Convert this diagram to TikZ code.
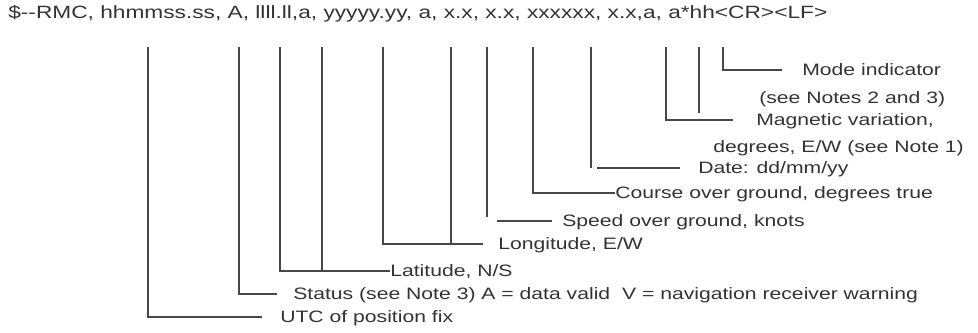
\documentclass[tikz,border=0pt]{standalone}
\usepackage{fontspec}
\setmainfont{Liberation Sans}[FakeStretch=1.28]
\usetikzlibrary{calc, positioning}

\begin{document}
\begin{tikzpicture}[x=0.75pt, y=-0.75pt,
		lead/.style={line width=0.9pt, draw=black!72},
		lbl/.style={anchor=west, inner sep=0pt, text=black!80, font=\fontsize{12.4}{14}\selectfont, text height=8.9pt, text depth=0pt}]
	\useasboundingbox (0,0) rectangle (978,332);
	
	% Sentence
	\node[anchor=base west, inner sep=0pt, text=black!80, font=\fontsize{13.3}{15}\selectfont] (rmc) at (8,18)
		{\$-{}-RMC, hhmmss.ss, A, llll.ll,a, yyyyy.yy, a, x.x, x.x, xxxxxx, x.x,a, a*hh<CR><LF>};
	
	% Field ticks
	\foreach \name/\x in {utc/148, stat/239, lata/280, latb/322, lona/383, lonb/451, sog/487, cog/533, date/591, mva/666, mvb/699, mode/723}
		\coordinate (t-\name) at (\x,47);
	
	% Labels
	\node[lbl] (utc) at (280,317) {UTC of position fix};
	\node[lbl] (stat) at (293,294) {Status (see Note 3) A = data valid\ \ V = navigation receiver warning};
	\node[lbl] (lat) at (390,271) {Latitude, N/S};
	\node[lbl] (lon) at (498,244) {Longitude, E/W};
	\node[lbl] (sog) at (562,221) {Speed over ground, knots};
	\node[lbl] (cog) at (615,193) {Course over ground, degrees true};
	\node[lbl] (date) at (698,168) {Date: dd/mm/yy};
	\node[lbl] (mv) at (756,120) {Magnetic variation,};
	\node[lbl] (mv2) at (713,147) {degrees, E/W (see Note 1)};
	\node[lbl] (mode) at (802,70) {Mode indicator};
	\node[lbl] (mode2) at (759,98) {(see Notes 2 and 3)};
	
	% Leaders
	\draw[lead, shorten >=13.5pt] (t-utc) |- (utc.west);
	\draw[lead, shorten >=12pt] (t-stat) |- (stat.west);
	\draw[lead] (t-lata) |- (lat.west);
	\draw[lead] (t-latb) -- (t-latb |- lat.west);
	\draw[lead, shorten >=11.25pt] (t-lona) |- (lon.west);
	\draw[lead] (t-lonb) -- (t-lonb |- lon.west);
	\draw[lead] (t-sog) -- ++(0,170);
	\draw[lead, shorten >=7.5pt] ($(sog.west)+(-65,0)$) -- (sog.west);
	\draw[lead] (t-cog) |- (cog.west);
	\draw[lead] (t-date) -- (t-date |- date.west);
	\draw[lead, shorten >=13.5pt] ($(t-date |- date.west)+(6,0)$) -- (date.west);
	\draw[lead, shorten >=17.25pt] (t-mva) |- (mv.west);
	\draw[lead] (t-mvb) -- ++(0,66);
	\draw[lead, shorten >=15pt] (t-mode) |- (mode.west);
\end{tikzpicture}
\end{document}
